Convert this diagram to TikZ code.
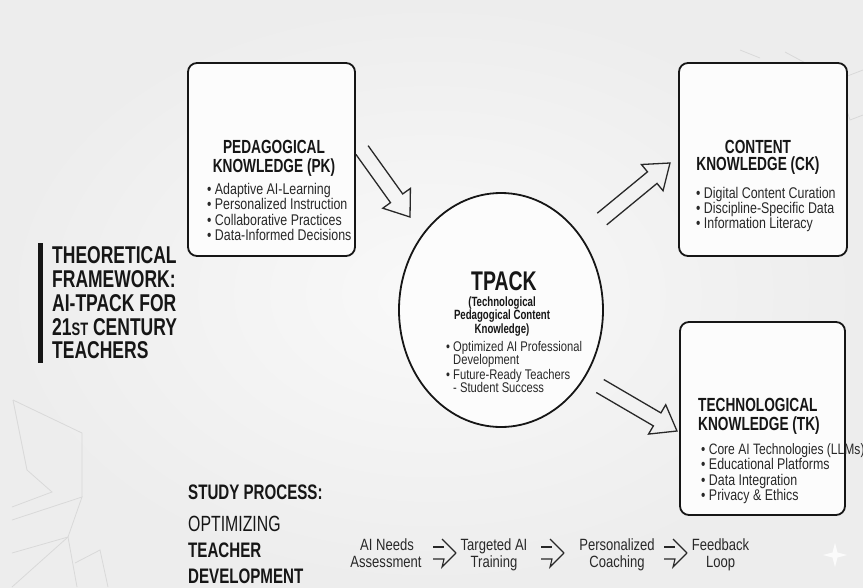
\documentclass[tikz,border=0pt]{standalone}
\usepackage{fontspec}
\setmainfont{Liberation Sans}[FakeStretch=0.8]
\newfontfamily\capsfont{Liberation Sans}[FakeStretch=0.72]
\usetikzlibrary{calc,shapes.geometric}
\definecolor{bgin}{HTML}{F9F9F9}
\definecolor{bgout}{HTML}{EDEDED}
\definecolor{ink}{HTML}{161616}
\definecolor{ink2}{HTML}{282828}
\definecolor{deco}{HTML}{D9D9D9}
\definecolor{boxfill}{HTML}{FCFCFC}
\tikzset{
  kbox/.style={draw=ink, line width=1.8pt, rounded corners=9pt, fill=boxfill, inner sep=0pt},
  ttl/.style={font=\capsfont\bfseries\fontsize{19}{20}\selectfont, text=ink, inner sep=0pt, anchor=base},
  ttlw/.style={ttl, anchor=base west},
  itm/.style={font=\fontsize{15.5}{16}\selectfont, text=ink2, inner sep=0pt, anchor=base west},
  subt/.style={font=\capsfont\bfseries\fontsize{13.4}{14}\selectfont, text=ink, inner sep=0pt, anchor=base},
  titm/.style={font=\fontsize{14}{14}\selectfont, text=ink2, inner sep=0pt, anchor=base west},
  bigt/.style={font=\capsfont\bfseries\fontsize{24.3}{25}\selectfont, text=ink, inner sep=0pt, anchor=base west},
  study/.style={font=\capsfont\bfseries\fontsize{21}{22}\selectfont, text=ink, inner sep=0pt, anchor=base west},
  flowt/.style={font=\fontsize{16.3}{17}\selectfont, text=ink2, inner sep=0pt, anchor=base},
  hollow/.style={draw=ink2, line width=1.3pt, line join=miter},
  flowarr/.style={draw=ink2, line width=1.1pt},
  decoline/.style={draw=deco, line width=0.8pt}
}
\newcommand{\hollowarrow}[2]{%
  \draw[hollow]
    ($(#1)!7.5pt!90:(#2)$) --
    ($($(#2)!23pt!(#1)$)!7.5pt!-90:(#1)$) --
    ($($(#2)!23pt!(#1)$)!17pt!-90:(#1)$) --
    (#2) --
    ($($(#2)!23pt!(#1)$)!17pt!90:(#1)$) --
    ($($(#2)!23pt!(#1)$)!7.5pt!90:(#1)$) --
    ($(#1)!7.5pt!-90:(#2)$);}
\begin{document}
\begin{tikzpicture}[x=1pt,y=-1pt]
\useasboundingbox (0,0) rectangle (863,587);
\shade[inner color=bgin, outer color=bgout] (0,0) rectangle (863,587);

% faint background decoration
\draw[decoline] (13,400) -- (82,433) -- (82,497);
\draw[decoline] (13,400) -- (27,470) -- (52,492) -- (12,507);
\draw[decoline] (12,520) -- (82,497) -- (68,537) -- (12,553);
\draw[decoline] (68,537) -- (12,587);
\draw[decoline] (68,537) -- (77,587);
\draw[decoline] (75,563) -- (100,550) -- (108,587);
\draw[decoline] (740,50) -- (760,58);
\draw[decoline] (785,52) -- (837,80) -- (863,70);
\draw[decoline] (837,80) -- (850,120) -- (863,115);
\fill[white, opacity=0.8] (835,543) -- (837.5,552.5) -- (847,555) -- (837.5,557.5) -- (835,567) -- (832.5,557.5) -- (823,555) -- (832.5,552.5) -- cycle;

% boxes
\node[kbox, minimum width=167pt, minimum height=193pt] (pk) at (271.5,159.5) {};
\node[kbox, minimum width=168pt, minimum height=193pt] (ck) at (763,159.5) {};
\node[kbox, minimum width=165pt, minimum height=193pt] (tk) at (762.5,418.5) {};
\node[ellipse, draw=ink, line width=1.8pt, fill=boxfill, minimum width=204pt, minimum height=234pt, inner sep=0pt] (tpack) at (501,310) {};

% PK text
\node[ttl] (pkt1) at (274,153) {PEDAGOGICAL};
\node[ttl] (pkt2) at (274,172) {KNOWLEDGE (PK)};
\node[itm] (pk1) at (207,194) {• Adaptive AI-Learning};
\node[itm] (pk2) at (207,209.5) {• Personalized Instruction};
\node[itm] (pk3) at (207,225) {• Collaborative Practices};
\node[itm] (pk4) at (207,240.5) {• Data-Informed Decisions};

% CK text
\node[ttl] (ckt1) at (758,153) {CONTENT};
\node[ttl] (ckt2) at (758,170.5) {KNOWLEDGE (CK)};
\node[itm] (ck1) at (696,198) {• Digital Content Curation};
\node[itm] (ck2) at (696,213) {• Discipline-Specific Data};
\node[itm] (ck3) at (696,228) {• Information Literacy};

% TK text
\node[ttlw] (tkt1) at (698,411.5) {TECHNOLOGICAL};
\node[ttlw] (tkt2) at (698,430.5) {KNOWLEDGE (TK)};
\node[itm, font=\fontsize{15.1}{16}\selectfont] (tk1) at (701,454) {• Core AI Technologies (LLMs)};
\node[itm] (tk2) at (701,469) {• Educational Platforms};
\node[itm] (tk3) at (701,485) {• Data Integration};
\node[itm] (tk4) at (701,500) {• Privacy \& Ethics};

% TPACK text
\node[font=\capsfont\bfseries\fontsize{27}{28}\selectfont, text=ink, inner sep=0pt, anchor=base] (tpt) at (504,290.5) {TPACK};
\node[subt] (tps1) at (502,306) {(Technological};
\node[subt] (tps2) at (502,319.5) {Pedagogical Content};
\node[subt] (tps3) at (502,333) {Knowledge)};
\node[titm] (tp1) at (446,351) {• Optimized AI Professional};
\node[titm] (tp2) at (453,364) {Development};
\node[titm] (tp3) at (446,379) {• Future-Ready Teachers};
\node[titm] (tp4) at (453,392) {- Student Success};

% big hollow arrows
\coordinate (h1a) at (362,150);
\coordinate (h1b) at (410,217);
\coordinate (h2a) at (602,219);
\coordinate (h2b) at (670,163);
\coordinate (h3a) at (600,386);
\coordinate (h3b) at (677,431);
\hollowarrow{h1a}{h1b}
\hollowarrow{h2a}{h2b}
\hollowarrow{h3a}{h3b}

% left title
\fill[ink] (38,243) rectangle (43,363);
\node[bigt] (lt1) at (52,263) {THEORETICAL};
\node[bigt] (lt2) at (52,287) {FRAMEWORK:};
\node[bigt] (lt3) at (52,311.5) {AI-TPACK FOR};
\node[bigt] (lt4) at (52,335) {21{\fontsize{18}{18}\selectfont ST} CENTURY};
\node[bigt] (lt5) at (52,358.5) {TEACHERS};

% study process
\node[study] (sp1) at (188,499.5) {STUDY PROCESS:};
\node[study, font=\capsfont\mdseries\fontsize{22}{22}\selectfont] (sp2) at (188,531) {OPTIMIZING};
\node[study] (sp3) at (188,557.5) {TEACHER};
\node[study] (sp4) at (188,583.5) {DEVELOPMENT};

% flow
\node[flowt] (f1a) at (387,550) {AI Needs};
\node[flowt] (f1b) at (386,567) {Assessment};
\node[flowt] (f2a) at (494,550) {Targeted AI};
\node[flowt] (f2b) at (494,567) {Training};
\node[flowt] (f3a) at (617,550) {Personalized};
\node[flowt] (f3b) at (617,567) {Coaching};
\node[flowt] (f4a) at (720.5,550) {Feedback};
\node[flowt] (f4b) at (720.5,567) {Loop};
\foreach \x/\n in {433/fa1, 541/fa2, 664/fa3} {
  \coordinate (\n) at (\x,553);
  \begin{scope}[shift={(\n)}]
    \draw[flowarr] (0,-6) -- (11,-6);
    \draw[flowarr] (9,-14) -- (23,0);
    \draw[flowarr] (0,6) -- (11,6) -- (9,14) -- (23,0);
  \end{scope}
}
\end{tikzpicture}
\end{document}
